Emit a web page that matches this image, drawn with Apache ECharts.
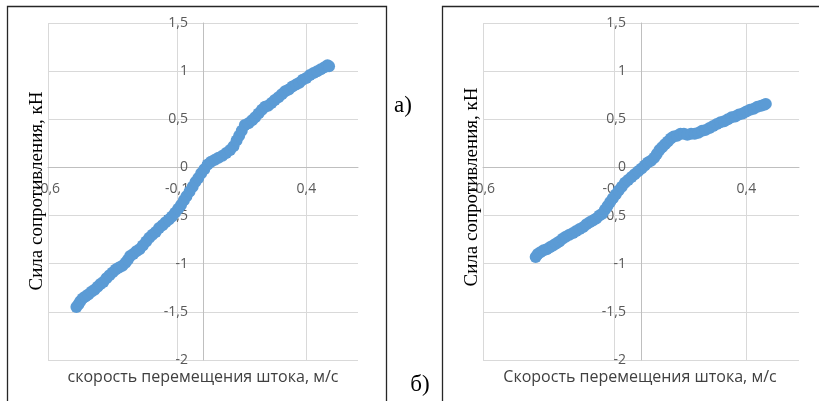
<!DOCTYPE html>
<html>
<head>
<meta charset="utf-8">
<script src="https://cdn.jsdelivr.net/npm/echarts@6/dist/echarts.min.js"></script>
<style>
  html, body { margin: 0; padding: 0; background: #fff; }
  #chart { width: 819px; height: 401px; }
</style>
</head>
<body>
<div id="chart"></div>
<script>
// data: [скорость, м/с ; сила, кН]
var seriesA = [
  [-0.490,-1.45],[-0.482,-1.42],[-0.475,-1.39],[-0.466,-1.36],[-0.455,-1.34],[-0.444,-1.32],
  [-0.432,-1.29],[-0.420,-1.27],[-0.408,-1.24],[-0.397,-1.21],[-0.386,-1.19],[-0.374,-1.15],
  [-0.362,-1.12],[-0.350,-1.09],[-0.338,-1.06],[-0.325,-1.04],[-0.312,-1.02],[-0.300,-0.99],
  [-0.291,-0.96],[-0.282,-0.92],[-0.270,-0.90],[-0.258,-0.87],[-0.246,-0.85],[-0.233,-0.81],
  [-0.220,-0.77],[-0.208,-0.73],[-0.196,-0.70],[-0.183,-0.67],[-0.170,-0.63],[-0.157,-0.60],
  [-0.145,-0.57],[-0.132,-0.54],[-0.120,-0.51],[-0.108,-0.47],[-0.096,-0.43],[-0.085,-0.39],
  [-0.074,-0.34],[-0.064,-0.30],[-0.052,-0.25],[-0.040,-0.20],[-0.029,-0.15],[-0.018,-0.11],
  [-0.007,-0.06],[0.005,-0.02],[0.018,0.03],[0.031,0.06],[0.046,0.08],[0.060,0.10],
  [0.075,0.12],[0.090,0.15],[0.105,0.18],[0.118,0.22],[0.130,0.28],[0.140,0.33],
  [0.150,0.38],[0.162,0.44],[0.176,0.46],[0.190,0.49],[0.202,0.52],[0.215,0.56],
  [0.228,0.60],[0.240,0.63],[0.252,0.64],[0.265,0.67],[0.278,0.70],[0.292,0.73],
  [0.305,0.76],[0.318,0.79],[0.332,0.81],[0.346,0.84],[0.360,0.86],[0.373,0.88],
  [0.386,0.91],[0.400,0.93],[0.414,0.96],[0.428,0.98],[0.442,1.00],[0.456,1.02],
  [0.470,1.04],[0.482,1.06],[0.488,1.05]
];
var seriesB = [
  [-0.400,-0.93],[-0.392,-0.90],[-0.382,-0.88],[-0.370,-0.86],[-0.358,-0.85],[-0.346,-0.83],
  [-0.334,-0.81],[-0.322,-0.79],[-0.310,-0.77],[-0.298,-0.74],[-0.286,-0.72],[-0.272,-0.70],
  [-0.258,-0.68],[-0.246,-0.66],[-0.233,-0.64],[-0.220,-0.62],[-0.207,-0.59],[-0.195,-0.57],
  [-0.183,-0.55],[-0.170,-0.53],[-0.158,-0.50],[-0.147,-0.48],[-0.137,-0.44],[-0.127,-0.40],
  [-0.117,-0.36],[-0.107,-0.32],[-0.096,-0.28],[-0.085,-0.24],[-0.073,-0.20],[-0.061,-0.16],
  [-0.049,-0.13],[-0.036,-0.10],[-0.024,-0.07],[-0.011,-0.04],[0.002,-0.01],[0.014,0.02],
  [0.026,0.05],[0.038,0.07],[0.050,0.10],[0.060,0.14],[0.070,0.18],[0.080,0.21],
  [0.091,0.24],[0.102,0.27],[0.113,0.30],[0.124,0.32],[0.137,0.33],[0.150,0.35],
  [0.163,0.35],[0.176,0.34],[0.190,0.35],[0.204,0.35],[0.218,0.36],[0.232,0.38],
  [0.246,0.39],[0.260,0.41],[0.274,0.43],[0.288,0.45],[0.302,0.47],[0.316,0.48],
  [0.330,0.50],[0.344,0.52],[0.358,0.53],[0.372,0.55],[0.386,0.56],[0.400,0.58],
  [0.414,0.60],[0.428,0.61],[0.442,0.63],[0.456,0.64],[0.468,0.65],[0.474,0.66]
];
var xMin = -0.6, xMax = 0.6, xStep = 0.5;
var yMin = -2, yMax = 1.5, yStep = 0.5;
var yTitle = 'Сила сопротивления, кН';
var xTitleA = 'скорость перемещения штока, м/с';
var xTitleB = 'Скорость перемещения штока, м/с';

var grids = [
  { left: 48, top: 23, width: 310, height: 337 },
  { left: 483, top: 23, width: 316, height: 337 }
];

var chart = echarts.init(document.getElementById('chart'));

function comma(v){
  return String(Math.round(v * 10) / 10).replace('.', ',');
}

// Excel puts the axes through zero, labels follow them
function makeX(idx){
  var off = -(0 - yMin) / (yMax - yMin) * grids[idx].height;
  return {
    type: 'value', gridIndex: idx, min: xMin, max: xMax, interval: xStep,
    position: 'bottom', offset: off,
    axisLine: { onZero: false, lineStyle: { color: '#bfbfbf', width: 1 } },
    axisTick: { show: false },
    axisLabel: { color: '#595959', fontSize: 14, fontFamily: 'Open Sans', margin: 15,
      showMaxLabel: false, formatter: comma },
    splitLine: { show: true, lineStyle: { color: ['#d9d9d9','#d9d9d9','#d9d9d9','rgba(0,0,0,0)'], width: 1 } }
  };
}
function makeY(idx){
  var off = -(0 - xMin) / (xMax - xMin) * grids[idx].width;
  return {
    type: 'value', gridIndex: idx, min: yMin, max: yMax, interval: yStep,
    position: 'left', offset: off,
    axisLine: { onZero: false, lineStyle: { color: '#bfbfbf', width: 1 } },
    axisTick: { show: false },
    axisLabel: { color: '#595959', fontSize: 14, fontFamily: 'Open Sans', margin: 15, formatter: comma },
    splitLine: { show: true, lineStyle: { color: '#d9d9d9', width: 1 } }
  };
}
function makeSeries(idx, data){
  return {
    type: 'scatter', xAxisIndex: idx, yAxisIndex: idx,
    data: data, symbolSize: 12, silent: true,
    itemStyle: { color: '#5b9bd5', opacity: 1 }
  };
}

chart.setOption({
  animation: false,
  grid: grids,
  xAxis: [makeX(0), makeX(1)],
  yAxis: [makeY(0), makeY(1)],
  series: [makeSeries(0, seriesA), makeSeries(1, seriesB)],
  graphic: [
    { type: 'polyline', z: 0, shape: { points: [[7.5, 410], [7.5, 6.5], [386.5, 6.5], [386.5, 410]] },
      style: { stroke: '#262626', lineWidth: 1.3, fill: null } },
    { type: 'polyline', z: 0, shape: { points: [[442.5, 410], [442.5, 6.5], [830, 6.5]] },
      style: { stroke: '#262626', lineWidth: 1.3, fill: null } },
    { type: 'text', x: 37, y: 191, rotation: Math.PI / 2, z: 10,
      style: { text: yTitle, font: '19px "Liberation Serif"', fill: '#000', align: 'center', verticalAlign: 'middle' } },
    { type: 'text', x: 472, y: 187, rotation: Math.PI / 2, z: 10,
      style: { text: yTitle, font: '19px "Liberation Serif"', fill: '#000', align: 'center', verticalAlign: 'middle' } },
    { type: 'text', x: 203, y: 377, z: 10,
      style: { text: xTitleA, font: '16px "Open Sans"', fill: '#404040', align: 'center', verticalAlign: 'middle' } },
    { type: 'text', x: 640, y: 377, z: 10,
      style: { text: xTitleB, font: '16px "Open Sans"', fill: '#404040', align: 'center', verticalAlign: 'middle' } },
    { type: 'text', x: 403, y: 106, z: 10,
      style: { text: 'а)', font: '23px "Liberation Serif"', fill: '#000', align: 'center', verticalAlign: 'middle' } },
    { type: 'text', x: 420, y: 385, z: 10,
      style: { text: 'б)', font: '23px "Liberation Serif"', fill: '#000', align: 'center', verticalAlign: 'middle' } }
  ]
});
</script>
</body>
</html>
